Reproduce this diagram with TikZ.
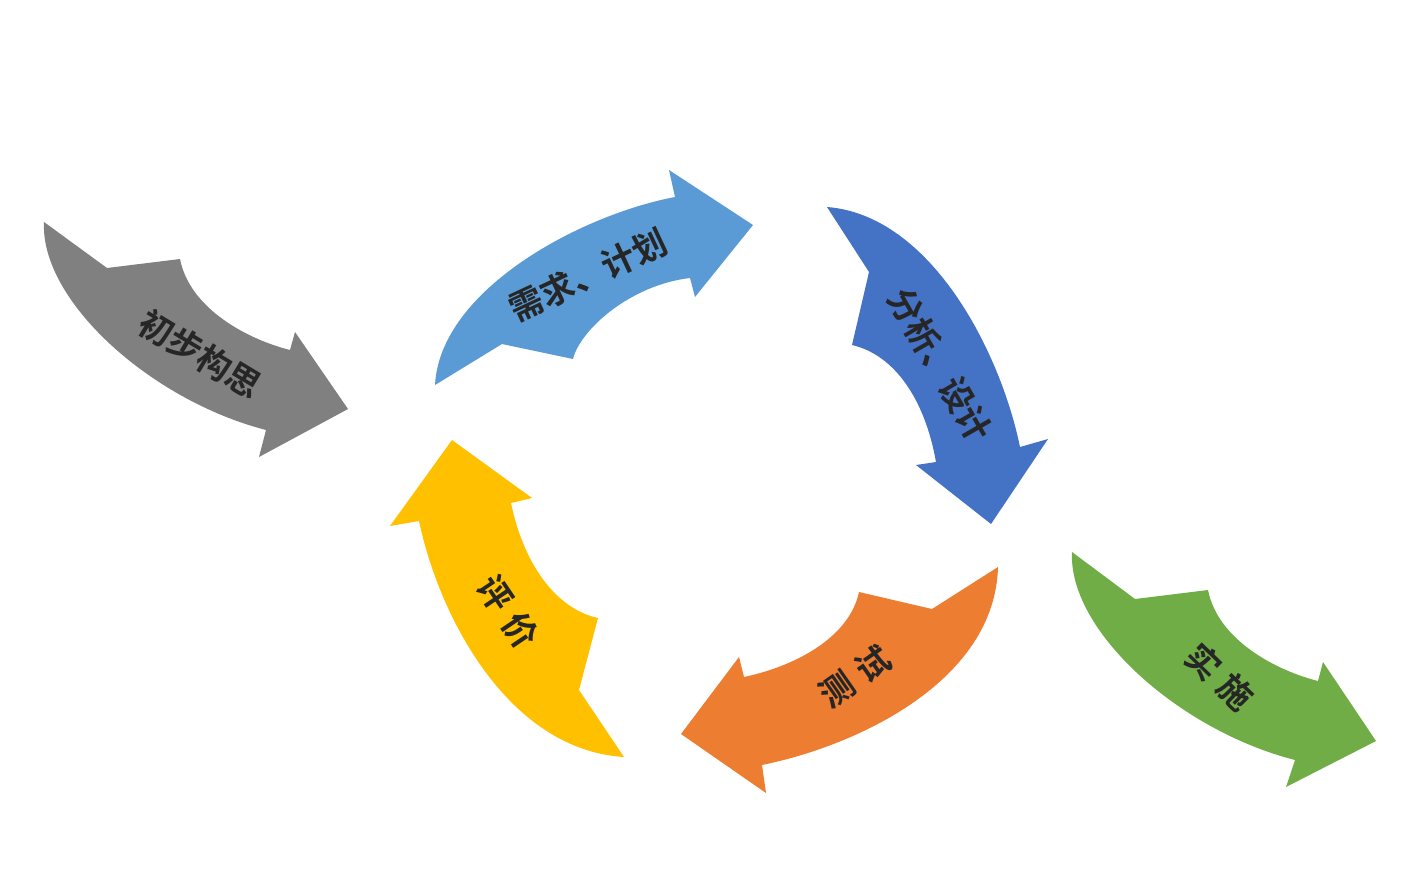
\documentclass[tikz,border=0pt]{standalone}
\usepackage{fontspec}
\newfontfamily\cjk{Noto Sans CJK SC Bold}
\begin{document}
\begin{tikzpicture}[x=1pt,y=-1pt,lbl/.style={font=\cjk\fontsize{34}{36}\selectfont,text=black!85,inner sep=0pt}]
\useasboundingbox (0,0) rectangle (1415,895);
\fill[fill=black!50] (44,222)--(107,268)--(180,259) .. controls (190,310) and (250,340) .. (290,350)--(295,332)--(348,409)--(259,457)--(266,430) .. controls (150,400) and (40,300) .. cycle;
\fill[fill={rgb,255:red,91;green,155;blue,213}] (435,385) .. controls (440,290) and (580,215) .. (675,197)--(669,170)--(753,225)--(695,297)--(690,278) .. controls (630,285) and (580,330) .. (573,359)--(502,344)--cycle;
\fill[fill={rgb,255:red,68;green,114;blue,196}] (827,207) .. controls (930,215) and (1000,350) .. (1020,447)--(1048,439)--(991,524)--(916,465)--(936,462) .. controls (925,400) and (895,355) .. (852,345)--(869,272)--cycle;
\fill[fill={rgb,255:red,237;green,125;blue,49}] (998,567) .. controls (995,680) and (860,745) .. (762,765)--(766,793)--(681,734)--(739,657)--(744,677) .. controls (800,665) and (850,635) .. (859,592)--(932,609)--cycle;
\fill[fill={rgb,255:red,255;green,192;blue,0}] (624,757) .. controls (510,750) and (440,620) .. (419,521)--(390,526)--(452,440)--(532,498)--(511,503) .. controls (525,570) and (560,610) .. (598,618)--(579,690)--cycle;
\fill[fill={rgb,255:red,112;green,173;blue,71}] (1072,552)--(1135,599)--(1208,590) .. controls (1218,641) and (1278,671) .. (1318,681)--(1323,662)--(1376,741)--(1286,787)--(1295,760) .. controls (1178,730) and (1068,630) .. cycle;
\node[lbl,rotate=-31] (a) at (200,354) {初步构思};
\node[lbl,rotate=25] (b) at (588,275) {需求、计划};
\node[lbl,rotate=-60] (c) at (940,365) {分析、设计};
\node[lbl,rotate=35] (d) at (855,677) {测\hspace{10pt}试};
\node[lbl,rotate=-56] (e) at (508,612) {评\hspace{10pt}价};
\node[lbl,rotate=-44] (f) at (1220,677) {实\hspace{10pt}施};
\end{tikzpicture}
\end{document}
